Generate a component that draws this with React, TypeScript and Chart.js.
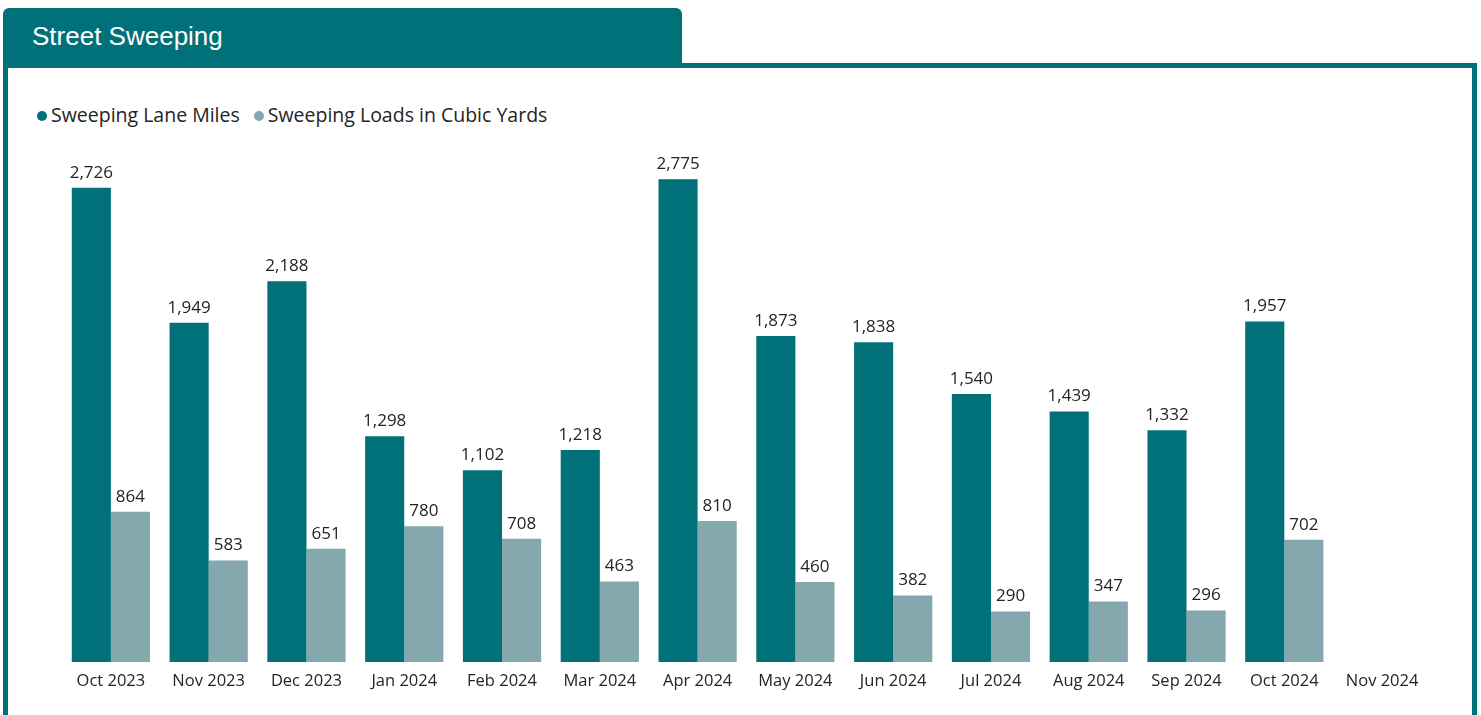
import React, { useEffect, useRef } from "react";
import { Chart, registerables } from "chart.js";

Chart.register(...registerables);

const categories = [
  "Oct 2023", "Nov 2023", "Dec 2023", "Jan 2024", "Feb 2024", "Mar 2024", "Apr 2024",
  "May 2024", "Jun 2024", "Jul 2024", "Aug 2024", "Sep 2024", "Oct 2024", "Nov 2024",
];
const laneMiles: (number | null)[] = [2726, 1949, 2188, 1298, 1102, 1218, 2775, 1873, 1838, 1540, 1439, 1332, 1957, null];
const loadsCubicYards: (number | null)[] = [864, 583, 651, 780, 708, 463, 810, 460, 382, 290, 347, 296, 702, null];
const seriesNames = ["Sweeping Lane Miles", "Sweeping Loads in Cubic Yards"];

const TEAL = "#007079";
const LIGHT = "#85A8AE";
const FONT = "'Open Sans', 'Noto Sans', sans-serif";

const valueLabels = {
  id: "valueLabels",
  afterDatasetsDraw(chart: any) {
    const ctx = chart.ctx;
    ctx.save();
    ctx.font = `17px ${FONT}`;
    ctx.fillStyle = "#252423";
    ctx.textAlign = "center";
    ctx.textBaseline = "middle";
    chart.data.datasets.forEach((ds: any, di: number) => {
      const meta = chart.getDatasetMeta(di);
      meta.data.forEach((bar: any, i: number) => {
        const v = ds.data[i];
        if (v == null) return;
        ctx.fillText(Number(v).toLocaleString("en-US"), bar.x, bar.y - 15);
      });
    });
    ctx.restore();
  },
};

export default function App() {
  const ref = useRef<HTMLCanvasElement>(null);
  useEffect(() => {
    const chart = new Chart(ref.current!, {
      type: "bar",
      data: {
        labels: categories,
        datasets: [
          { label: seriesNames[0], data: laneMiles, backgroundColor: TEAL, categoryPercentage: 0.8, barPercentage: 1 },
          { label: seriesNames[1], data: loadsCubicYards, backgroundColor: LIGHT, categoryPercentage: 0.8, barPercentage: 1 },
        ],
      },
      options: {
        animation: false,
        responsive: false,
        maintainAspectRatio: false,
        layout: { padding: { left: 62, right: 50, top: 140, bottom: 0 } },
        plugins: { legend: { display: false }, tooltip: { enabled: false } },
        scales: {
          x: {
            grid: { display: false, drawTicks: false },
            border: { display: false },
            ticks: { color: "#252423", font: { family: FONT, size: 16.5 }, padding: 9, maxRotation: 0, autoSkip: false },
            afterFit: (scale: any) => { scale.height = 53; },
          },
          y: { display: false, min: 0, max: 3000 },
        },
      },
      plugins: [valueLabels],
    });
    return () => chart.destroy();
  }, []);

  const dot = (c: string) => (
    <span style={{ display: "inline-block", width: 10, height: 10, borderRadius: "50%", background: c, marginRight: 4, verticalAlign: "middle", position: "relative", top: -1 }} />
  );

  return (
    <div style={{ position: "absolute", left: 0, top: 0, width: 1481, height: 715, overflow: "hidden", background: "#fff" }}>
      <div style={{ position: "absolute", left: 3, top: 63, width: 1474 - 10, height: 700, border: `5px solid ${TEAL}` }} />
      <div style={{ position: "absolute", left: 3, top: 8, width: 679, height: 59, background: TEAL, borderRadius: "6px 6px 0 0" }} />
      <div style={{ position: "absolute", left: 32, top: 21, color: "#fff", fontFamily: "'Liberation Sans', Arial, sans-serif", fontSize: 26, lineHeight: "30px" }}>
        Street Sweeping
      </div>
      <div style={{ position: "absolute", left: 37, top: 102, fontFamily: FONT, fontSize: 19.5, lineHeight: "26px", color: "#252423", whiteSpace: "nowrap" }}>
        {dot(TEAL)}{seriesNames[0]}
        <span style={{ marginLeft: 14 }}>{dot(LIGHT)}{seriesNames[1]}</span>
      </div>
      <canvas ref={ref} width={1481} height={715} style={{ position: "absolute", left: 0, top: 0, width: 1481, height: 715 }} />
    </div>
  );
}
